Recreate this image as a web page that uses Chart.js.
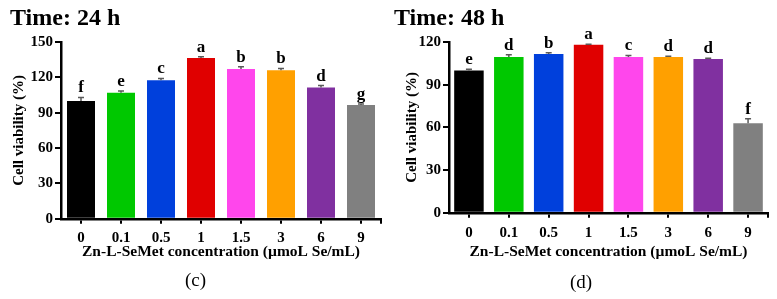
<!DOCTYPE html>
<html>
<head>
<meta charset="utf-8">
<script src="https://cdn.jsdelivr.net/npm/chart.js@4.4.1/dist/chart.umd.min.js"></script>
<style>
  body { margin: 0; background: #fff; }
  #wrap { position: relative; width: 777px; height: 299px; }
  canvas { position: absolute; top: 0; }
</style>
</head>
<body>
<div id="wrap">
  <canvas id="chart24" width="388" height="299" style="left:0"></canvas>
  <canvas id="chart48" width="389" height="299" style="left:388px"></canvas>
</div>
<script>
// concentrations (µmoL Se/mL)
const categories = ['0', '0.1', '0.5', '1', '1.5', '3', '6', '9'];
const barColors = ['#000000', '#00c800', '#0040dc', '#e00000', '#ff46ec', '#ffa000', '#8030a0', '#808080'];

// 24 h
const viability24 = [100, 107, 117.5, 136.5, 127, 126, 111.5, 96.5];
const error24 = [3, 1.5, 1.5, 1, 2, 1.5, 1.5, 1];
const letters24 = ['f', 'e', 'c', 'a', 'b', 'b', 'd', 'g'];
const yMax24 = 150;

// 48 h
const viability48 = [100, 109.5, 111.5, 118, 109.5, 109.5, 108, 63];
const error48 = [0.8, 1.5, 1, 0.5, 1, 0.5, 0.5, 3];
const letters48 = ['e', 'd', 'b', 'a', 'c', 'd', 'd', 'f'];
const yMax48 = 120;

const yStep = 30;
const serif = "'Liberation Serif', 'Times New Roman', serif";

// error bars (upper half) + significance letters
const errorLetters = {
  id: 'errorLetters',
  afterDatasetsDraw(chart, args, opts) {
    const ctx = chart.ctx;
    const y = chart.scales.y;
    const meta = chart.getDatasetMeta(0);
    ctx.save();
    meta.data.forEach((bar, i) => {
      const v = chart.data.datasets[0].data[i];
      const top = y.getPixelForValue(v + opts.errors[i]);
      const base = y.getPixelForValue(v);
      ctx.strokeStyle = '#5a5a5a';
      ctx.lineWidth = 1.5;
      ctx.beginPath();
      ctx.moveTo(bar.x, base);
      ctx.lineTo(bar.x, top);
      ctx.moveTo(bar.x - 3, top);
      ctx.lineTo(bar.x + 3, top);
      ctx.stroke();
      ctx.fillStyle = '#000';
      ctx.font = 'bold 17px ' + serif;
      ctx.textAlign = 'center';
      ctx.textBaseline = 'bottom';
      ctx.fillText(opts.letters[i], bar.x, top - 1);
    });
    // small end tick on the x axis
    const a = chart.chartArea;
    ctx.strokeStyle = '#000';
    ctx.lineWidth = 2;
    ctx.beginPath();
    ctx.moveTo(a.right, a.bottom);
    ctx.lineTo(a.right, a.bottom + 5);
    ctx.stroke();
    ctx.restore();
  }
};

function makeChart(id, cfg) {
  return new Chart(document.getElementById(id), {
    type: 'bar',
    data: {
      labels: categories,
      datasets: [{
        data: cfg.values,
        backgroundColor: barColors,
        borderWidth: 0,
        categoryPercentage: 1,
        barPercentage: cfg.barPct
      }]
    },
    plugins: [errorLetters],
    options: {
      responsive: false,
      animation: false,
      layout: { padding: { left: cfg.padLeft, right: cfg.padRight, top: 0, bottom: 0 } },
      plugins: {
        legend: { display: false },
        tooltip: { enabled: false },
        title: {
          display: true,
          text: cfg.title,
          align: 'start',
          color: '#000',
          font: { family: serif, size: 24, weight: 'bold', lineHeight: 1.2 },
          padding: { top: 4, bottom: 9.2 }
        },
        subtitle: {
          display: true,
          position: 'bottom',
          text: cfg.caption,
          color: '#000',
          font: { family: serif, size: 19, lineHeight: 1.2 },
          padding: { top: cfg.capTop, bottom: cfg.capBottom }
        },
        errorLetters: { errors: cfg.errors, letters: cfg.letters }
      },
      scales: {
        x: {
          afterFit: s => { s.height = cfg.xHeight; },
          grid: { display: true, offset: false, drawOnChartArea: false, drawTicks: true, tickLength: 5, color: '#000', lineWidth: 2 },
          border: { display: true, color: '#000', width: 2.5 },
          ticks: { color: '#000', padding: cfg.xTickPad, font: { family: serif, size: 15, weight: 'bold', lineHeight: 1.2 } },
          title: {
            display: true,
            text: 'Zn-L-SeMet concentration (µmoL Se/mL)',
            color: '#000',
            font: { family: serif, size: 15.5, weight: 'bold', lineHeight: 1.2 },
            padding: { top: 0, bottom: 1.5 }
          }
        },
        y: {
          min: 0,
          max: cfg.yMax,
          afterFit: s => { s.width = cfg.yWidth; },
          grid: { display: true, drawOnChartArea: false, drawTicks: true, tickLength: 6, color: '#000', lineWidth: 2 },
          border: { display: true, color: '#000', width: 2.5 },
          ticks: { stepSize: yStep, color: '#000', padding: 2, font: { family: serif, size: 15, weight: 'bold' } },
          title: {
            display: true,
            text: 'Cell viability (%)',
            color: '#000',
            font: { family: serif, size: 15, weight: 'bold', lineHeight: 1.2 },
            padding: { top: cfg.yTitlePad, bottom: 0 }
          }
        }
      }
    }
  });
}

makeChart('chart24', {
  title: 'Time: 24 h', caption: '(c)',
  values: viability24, errors: error24, letters: letters24, yMax: yMax24,
  barPct: 0.7, padLeft: 10, padRight: 7, yWidth: 51, yTitlePad: 0,
  xHeight: 44, xTickPad: 5, capTop: 7.2, capBottom: 6.2
});

makeChart('chart48', {
  title: 'Time: 48 h', caption: '(d)',
  values: viability48, errors: error48, letters: letters48, yMax: yMax48,
  barPct: 0.74, padLeft: 6, padRight: 9, yWidth: 55, yTitlePad: 9,
  xHeight: 50, xTickPad: 6.5, capTop: 8.9, capBottom: 4.5
});
</script>
</body>
</html>
